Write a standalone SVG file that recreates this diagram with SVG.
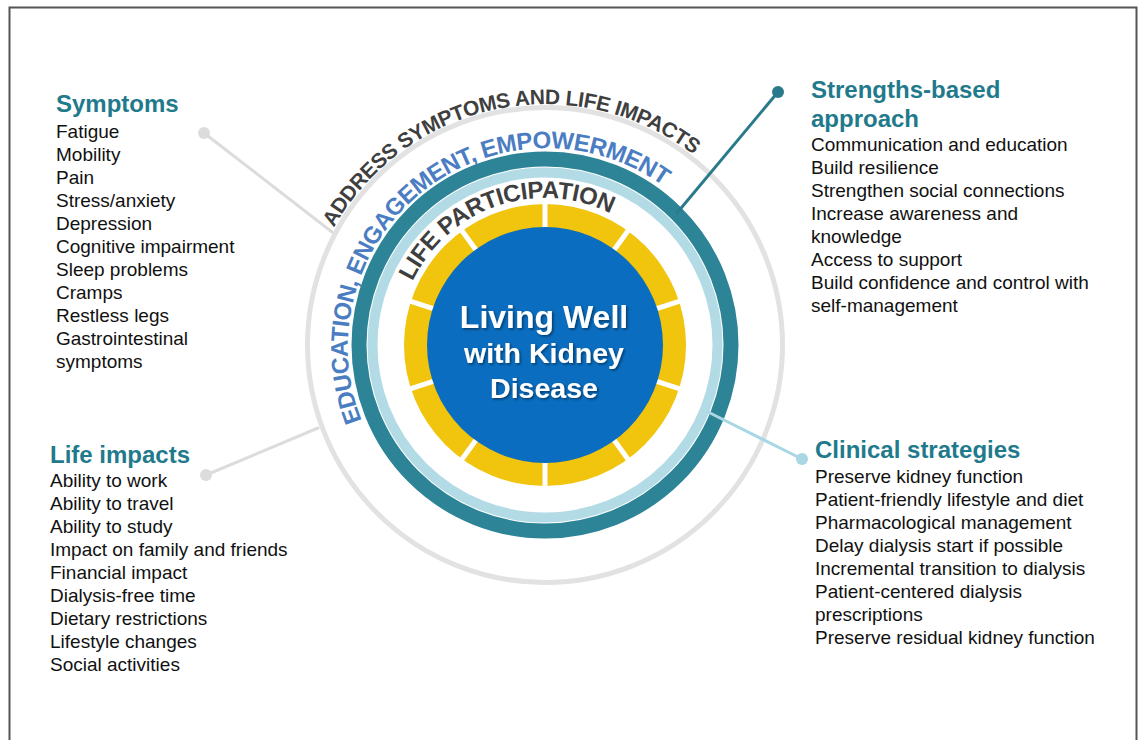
<svg xmlns="http://www.w3.org/2000/svg" width="1143" height="740" viewBox="0 0 1143 740">
<style>
  .hdr { font-family: "Liberation Sans", Arial, sans-serif; font-weight: bold; font-size: 24px; fill: #1f7a8c; }
  .item { font-family: "Liberation Sans", Arial, sans-serif; font-size: 19px; fill: #111111; }
  .arc { font-family: "Liberation Sans", Arial, sans-serif; font-weight: bold; }
  .center { font-family: "Liberation Sans", Arial, sans-serif; font-weight: bold; fill: #ffffff; text-anchor: middle; }
  .conn { stroke-width: 3; fill: none; stroke-linecap: round; }
</style>
<defs>
  <path id="arcOuter" d="M306.9,393.5 A243,243 0 0 1 783.1,296.5"/>
  <path id="arcBlue" d="M388.2,467.5 A199,199 0 0 1 701.8,222.5"/>
  <path id="arcLife" d="M406,392.9 A147,147 0 0 1 684,297.1"/>
  <filter id="shadow" x="-10%" y="-10%" width="120%" height="130%">
    <feDropShadow dx="1.5" dy="1.5" stdDeviation="1" flood-color="#000000" flood-opacity="0.45"/>
  </filter>
</defs>
<rect x="0" y="0" width="1143" height="740" fill="#ffffff"/>
<rect x="9.5" y="7.5" width="1127" height="800" fill="none" stroke="#555555" stroke-width="2"/>

<g id="hub">
  <circle cx="545" cy="345" r="237.5" fill="none" stroke="#e2e2e2" stroke-width="5"/>
  <circle cx="545" cy="345" r="186" fill="none" stroke="#2e8497" stroke-width="15"/>
  <circle cx="545" cy="345" r="172.5" fill="none" stroke="#b3dbe5" stroke-width="10"/>
  <circle cx="545" cy="345" r="141" fill="#f1c40e"/>
  <g stroke="#ffffff" stroke-width="5">
    <line x1="682.9" y1="300.2" x2="407.1" y2="389.8"/>
    <line x1="630.2" y1="227.7" x2="459.8" y2="462.3"/>
    <line x1="545" y1="200" x2="545" y2="490"/>
    <line x1="459.8" y1="227.7" x2="630.2" y2="462.3"/>
    <line x1="407.1" y1="300.2" x2="682.9" y2="389.8"/>
  </g>
  <circle cx="545" cy="345" r="118" fill="#0a6dbf"/>
  <g filter="url(#shadow)">
    <text class="center" x="544" y="328" font-size="32">Living Well</text>
    <text class="center" x="544" y="363" font-size="28.5">with Kidney</text>
    <text class="center" x="544" y="398" font-size="28.5">Disease</text>
  </g>
</g>

<g id="ring-labels">
  <text class="arc" font-size="21" letter-spacing="-0.4" fill="#3f3f3f"><textPath href="#arcOuter" startOffset="50%" text-anchor="middle">ADDRESS SYMPTOMS AND LIFE IMPACTS</textPath></text>
  <text class="arc" font-size="24" letter-spacing="-0.6" fill="#4a7dc1"><textPath href="#arcBlue" startOffset="50%" text-anchor="middle">EDUCATION, ENGAGEMENT, EMPOWERMENT</textPath></text>
  <text class="arc" font-size="24" letter-spacing="-0.4" fill="#3f3f3f"><textPath href="#arcLife" startOffset="50%" text-anchor="middle">LIFE PARTICIPATION</textPath></text>
</g>

<g id="connectors">
  <line class="conn" x1="204" y1="133" x2="332" y2="232" stroke="#dcdcdc"/>
  <circle cx="204" cy="133" r="6" fill="#dcdcdc"/>
  <line class="conn" x1="206" y1="475" x2="318" y2="428" stroke="#dcdcdc"/>
  <circle cx="206" cy="475" r="6" fill="#dcdcdc"/>
  <line class="conn" x1="778" y1="92" x2="677" y2="213" stroke="#2a7a8c"/>
  <circle cx="778" cy="92" r="6" fill="#2a7a8c"/>
  <line class="conn" x1="802" y1="459" x2="708" y2="412" stroke="#a9d7e3"/>
  <circle cx="802" cy="459" r="6" fill="#a9d7e3"/>
</g>

<g id="symptoms">
  <text class="hdr" x="56" y="112">Symptoms</text>
  <text class="item" x="56" y="138">Fatigue</text>
  <text class="item" x="56" y="161">Mobility</text>
  <text class="item" x="56" y="184">Pain</text>
  <text class="item" x="56" y="207">Stress/anxiety</text>
  <text class="item" x="56" y="230">Depression</text>
  <text class="item" x="56" y="253">Cognitive impairment</text>
  <text class="item" x="56" y="276">Sleep problems</text>
  <text class="item" x="56" y="299">Cramps</text>
  <text class="item" x="56" y="322">Restless legs</text>
  <text class="item" x="56" y="345">Gastrointestinal</text>
  <text class="item" x="56" y="368">symptoms</text>
</g>

<g id="life-impacts">
  <text class="hdr" x="50" y="463">Life impacts</text>
  <text class="item" x="50" y="487">Ability to work</text>
  <text class="item" x="50" y="510">Ability to travel</text>
  <text class="item" x="50" y="533">Ability to study</text>
  <text class="item" x="50" y="556">Impact on family and friends</text>
  <text class="item" x="50" y="579">Financial impact</text>
  <text class="item" x="50" y="602">Dialysis-free time</text>
  <text class="item" x="50" y="625">Dietary restrictions</text>
  <text class="item" x="50" y="648">Lifestyle changes</text>
  <text class="item" x="50" y="671">Social activities</text>
</g>

<g id="strengths">
  <text class="hdr" x="811" y="98">Strengths-based</text>
  <text class="hdr" x="811" y="127">approach</text>
  <text class="item" x="811" y="151">Communication and education</text>
  <text class="item" x="811" y="174">Build resilience</text>
  <text class="item" x="811" y="197">Strengthen social connections</text>
  <text class="item" x="811" y="220">Increase awareness and</text>
  <text class="item" x="811" y="243">knowledge</text>
  <text class="item" x="811" y="266">Access to support</text>
  <text class="item" x="811" y="289">Build confidence and control with</text>
  <text class="item" x="811" y="312">self-management</text>
</g>

<g id="clinical">
  <text class="hdr" x="815" y="458">Clinical strategies</text>
  <text class="item" x="815" y="483">Preserve kidney function</text>
  <text class="item" x="815" y="506">Patient-friendly lifestyle and diet</text>
  <text class="item" x="815" y="529">Pharmacological management</text>
  <text class="item" x="815" y="552">Delay dialysis start if possible</text>
  <text class="item" x="815" y="575">Incremental transition to dialysis</text>
  <text class="item" x="815" y="598">Patient-centered dialysis</text>
  <text class="item" x="815" y="621">prescriptions</text>
  <text class="item" x="815" y="644">Preserve residual kidney function</text>
</g>
</svg>
